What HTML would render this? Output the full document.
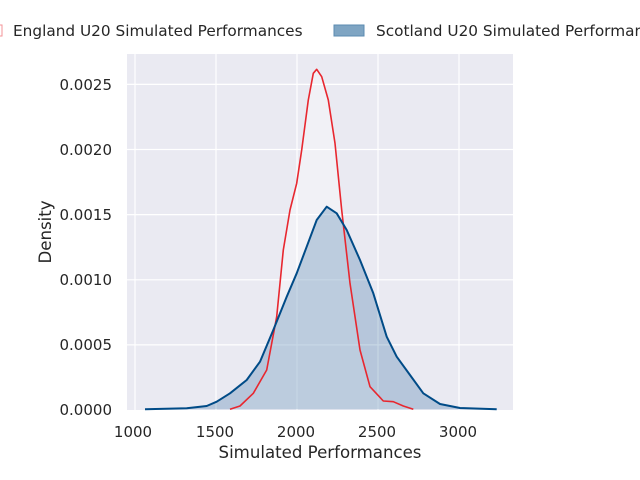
<!DOCTYPE html>
<html><head><style>body{margin:0;background:#fff}svg{display:block}text{font-family:"DejaVu Sans","Liberation Sans",sans-serif;fill:#262626}</style></head>
<body>
<svg width="640" height="480" xmlns="http://www.w3.org/2000/svg">
<rect x="127" y="54" width="386" height="356" fill="#eaeaf2"/>
<g stroke="#fff" stroke-width="1.2">
<line x1="135" y1="54" x2="135" y2="410"/><line x1="216" y1="54" x2="216" y2="410"/><line x1="297" y1="54" x2="297" y2="410"/><line x1="378" y1="54" x2="378" y2="410"/><line x1="459" y1="54" x2="459" y2="410"/>
<line x1="127" y1="84.4" x2="513" y2="84.4"/><line x1="127" y1="149.5" x2="513" y2="149.5"/><line x1="127" y1="214.6" x2="513" y2="214.6"/><line x1="127" y1="279.8" x2="513" y2="279.8"/><line x1="127" y1="344.9" x2="513" y2="344.9"/>
</g>
<polygon fill="#ffffff" fill-opacity="0.35" points="230,409.3 240,406 253.3,393.3 266.7,370 276.7,316.7 283.3,250 290,210 296.7,183.3 301.7,150 308.3,100 313.3,73.3 316.7,69.3 321.7,76.7 328.3,100 335,143.3 341.7,210 350,283.3 360,350 370,386.7 383.3,401 393.3,401.7 403.3,406 413.3,409.3"/>
<polygon fill="#004b87" fill-opacity="0.22" points="145,409.3 186.7,408.3 206.7,406 216.7,401.7 230,393.3 246.7,380 260,361.7 273.3,330 286.7,296.7 296.7,273.3 306.7,246.7 316.7,220 326.7,206.7 336.7,213.3 346.7,230 360,260 373.3,293.3 386.7,336.7 396.7,356.7 410,375 423.3,393.3 440,404 460,408 496.7,409.3"/>
<polyline fill="none" stroke="#e8272f" stroke-width="1.6" stroke-linejoin="round" points="230,409.3 240,406 253.3,393.3 266.7,370 276.7,316.7 283.3,250 290,210 296.7,183.3 301.7,150 308.3,100 313.3,73.3 316.7,69.3 321.7,76.7 328.3,100 335,143.3 341.7,210 350,283.3 360,350 370,386.7 383.3,401 393.3,401.7 403.3,406 413.3,409.3"/>
<polyline fill="none" stroke="#004b87" stroke-width="2" stroke-linejoin="round" points="145,409.3 186.7,408.3 206.7,406 216.7,401.7 230,393.3 246.7,380 260,361.7 273.3,330 286.7,296.7 296.7,273.3 306.7,246.7 316.7,220 326.7,206.7 336.7,213.3 346.7,230 360,260 373.3,293.3 386.7,336.7 396.7,356.7 410,375 423.3,393.3 440,404 460,408 496.7,409.3"/>
<g font-size="15" text-anchor="middle">
<text x="133" y="437">1000</text><text x="215" y="437">1500</text><text x="296" y="437">2000</text><text x="377" y="437">2500</text><text x="458" y="437">3000</text>
</g>
<g font-size="15" text-anchor="end">
<text x="112" y="90">0.0025</text><text x="112" y="155">0.0020</text><text x="112" y="220">0.0015</text><text x="112" y="285">0.0010</text><text x="112" y="350">0.0005</text><text x="112" y="415">0.0000</text>
</g>
<text x="320" y="458" font-size="16.6" text-anchor="middle">Simulated Performances</text>
<text transform="translate(51,232) rotate(-90)" font-size="16.6" text-anchor="middle">Density</text>
<rect x="-20" y="25" width="22" height="11" fill="#fff" stroke="#e8272f" stroke-opacity="0.5"/>
<text x="13" y="36" font-size="15.3">England U20 Simulated Performances</text>
<rect x="334" y="25" width="30" height="11" fill="#7fa5c3" stroke="#5b8bb2"/>
<text x="376" y="36" font-size="15.3">Scotland U20 Simulated Performances</text>
</svg>
</body></html>
